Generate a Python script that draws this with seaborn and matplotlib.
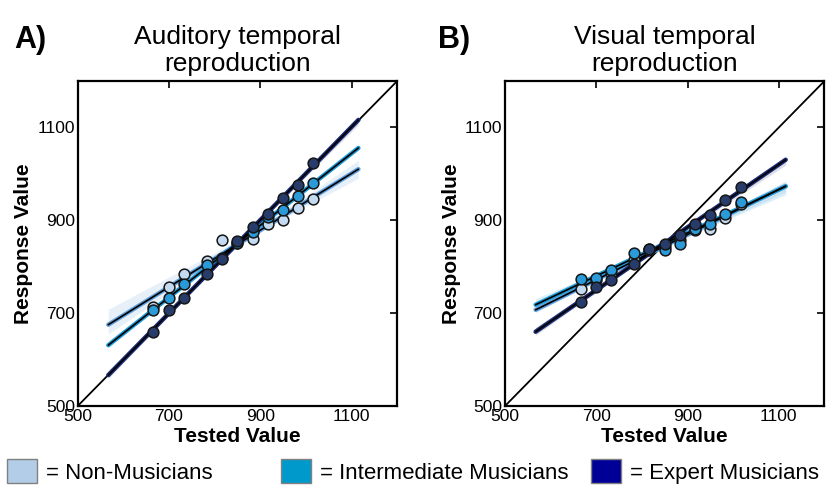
import numpy as np
import pandas as pd
import matplotlib
matplotlib.use("Agg")
import matplotlib.pyplot as plt
from matplotlib.patches import Patch
import seaborn as sns

# ---- data ----
tested = [666, 700, 733, 783, 816, 850, 883, 916, 950, 983, 1016]

aud_non = [713, 756, 784, 812, 857, 851, 859, 891, 901, 926, 946]
aud_int = [707, 732, 762, 803, 818, 852, 875, 907, 923, 953, 980]
aud_exp = [659, 706, 732, 784, 816, 855, 886, 914, 949, 975, 1023]

vis_non = [753, 772, 786, 815, 838, 843, 858, 880, 882, 905, 935]
vis_int = [774, 775, 793, 829, 836, 837, 850, 882, 893, 914, 939]
vis_exp = [723, 756, 771, 805, 838, 848, 868, 893, 911, 943, 971]

groups = ["Non-Musicians", "Intermediate Musicians", "Expert Musicians"]
panel_titles = ["Auditory temporal\nreproduction", "Visual temporal\nreproduction"]
panel_letters = ["A)", "B)"]
ticks = [500, 700, 900, 1100]

# ---- styles ----
point_colors = {"Non-Musicians": "#c4daf0", "Intermediate Musicians": "#2a9ad8",
                "Expert Musicians": "#283c6c"}
band_colors = {"Non-Musicians": "#5f9fdc", "Intermediate Musicians": "#1f9bd7",
               "Expert Musicians": "#1a2a70"}
legend_colors = {"Non-Musicians": "#b3cde8", "Intermediate Musicians": "#0099cc",
                 "Expert Musicians": "#000096"}
fit_range = (567, 1115)

sns.set_style("white")
plt.rcParams["font.family"] = ["Liberation Sans", "DejaVu Sans"]
plt.rcParams["text.color"] = "black"
plt.rcParams["axes.labelcolor"] = "black"
plt.rcParams["xtick.color"] = "black"
plt.rcParams["ytick.color"] = "black"

rows = []
for panel, series in zip(["A", "B"], [[aud_non, aud_int, aud_exp], [vis_non, vis_int, vis_exp]]):
    for g, vals in zip(groups, series):
        for t, v in zip(tested, vals):
            rows.append({"panel": panel, "group": g, "tested": t, "response": v})
df = pd.DataFrame(rows)

W, H = 837, 487
fig = plt.figure(figsize=(W / 100, H / 100), dpi=100)
axes = [fig.add_axes([77.7 / W, (H - 406) / H, 319.5 / W, 325 / H]),
        fig.add_axes([505 / W, (H - 406) / H, 319.5 / W, 325 / H])]

for ax, panel, title, letter in zip(axes, ["A", "B"], panel_titles, panel_letters):
    ax.axline((0, 0), slope=1, color="black", lw=1.3, zorder=1)
    ax.set_xlim(*fit_range)
    for g in groups:
        d = df[(df.panel == panel) & (df.group == g)]
        sns.regplot(data=d, x="tested", y="response", ax=ax, scatter=False,
                    truncate=False, ci=95, n_boot=1000, seed=1,
                    color=band_colors[g], line_kws=dict(lw=3.2, zorder=2))
        sns.regplot(data=d, x="tested", y="response", ax=ax, scatter=False,
                    truncate=False, ci=None, color="black",
                    line_kws=dict(lw=1.2, zorder=2.5))
    for g in groups:
        d = df[(df.panel == panel) & (df.group == g)]
        sns.scatterplot(data=d, x="tested", y="response", ax=ax, color=point_colors[g],
                        edgecolor="#151515", linewidth=1.1, s=60, zorder=3, legend=False)
    ax.set_xlim(500, 1200)
    ax.set_ylim(500, 1200)
    ax.set_xticks(ticks)
    ax.set_yticks(ticks)
    ax.tick_params(direction="in", top=True, right=True, length=5, width=1.2,
                   labelsize=12.5, pad=2, colors="black")
    for s in ax.spines.values():
        s.set_linewidth(1.6)
        s.set_color("black")
    ax.set_xlabel("Tested Value", fontsize=15, fontweight="bold", labelpad=2, color="black")
    ax.set_ylabel("Response Value", fontsize=15, fontweight="bold", labelpad=3, color="black")
    ax.set_title(title, fontsize=19, pad=7, linespacing=1.15, color="black")

fig.text(14 / W, 1 - 48 / H, "A)", fontsize=22, fontweight="bold", va="baseline", color="black")
fig.text(438 / W, 1 - 48 / H, "B)", fontsize=22, fontweight="bold", va="baseline", color="black")

leg_x = [4, 278, 588]
for g, x in zip(groups, leg_x):
    h = Patch(facecolor=legend_colors[g], edgecolor="#808080", linewidth=1)
    fig.legend(handles=[h], labels=["= " + g], loc="lower left",
               bbox_to_anchor=(x / W, 0.0), frameon=False, fontsize=16,
               handlelength=1.35, handleheight=1.3, handletextpad=0.4,
               borderpad=0.15, borderaxespad=0, labelcolor="black")

fig.savefig("out.png", dpi=100)
